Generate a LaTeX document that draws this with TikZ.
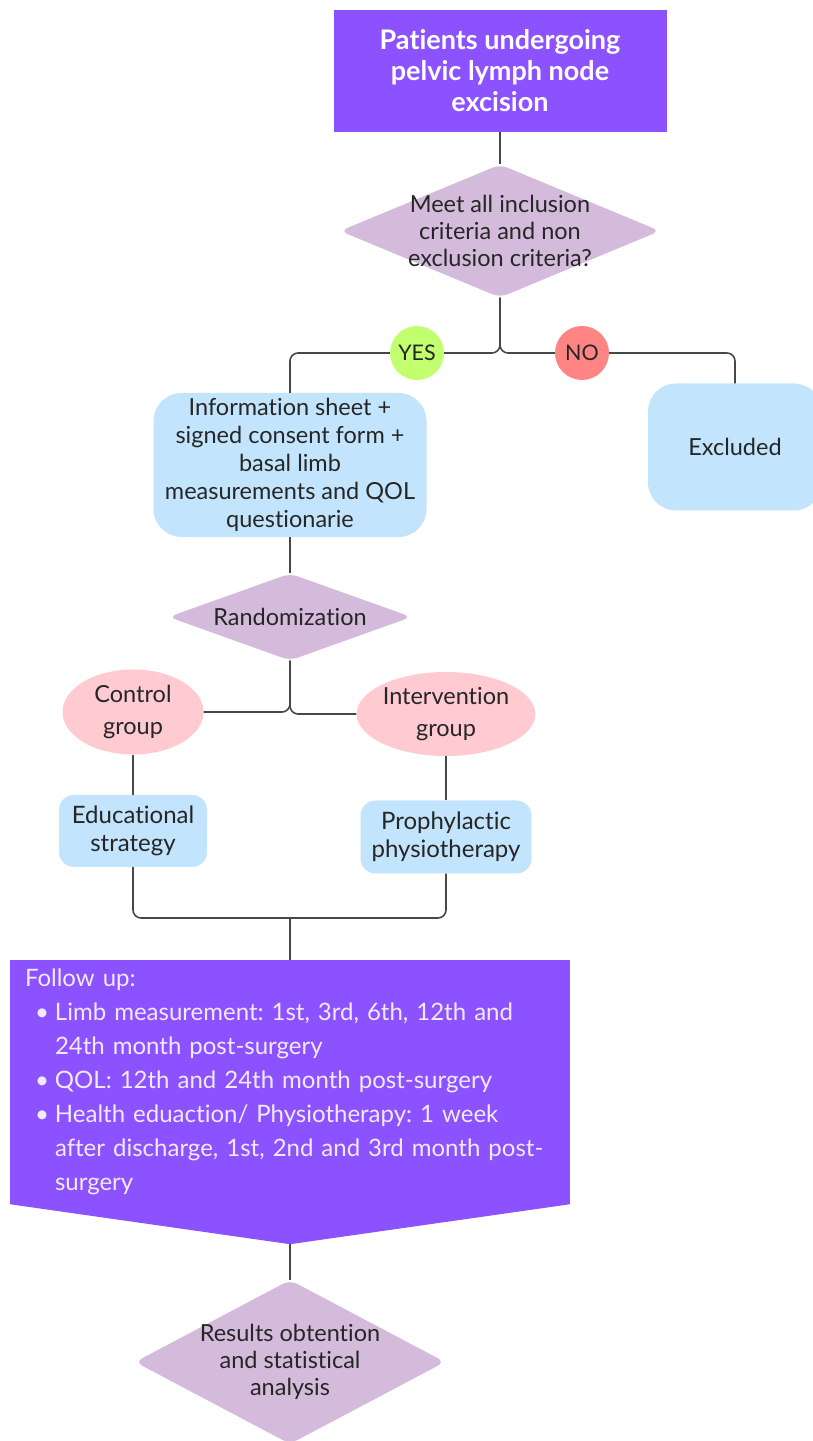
\documentclass[tikz,border=0pt]{standalone}
\usepackage{fontspec}
\setmainfont{Lato}[Ligatures=NoCommon]
\usetikzlibrary{positioning,shapes.geometric}
\definecolor{violetbox}{HTML}{8C52FF}
\definecolor{lilac}{HTML}{D4BBDC}
\definecolor{skyblue}{HTML}{C2E5FD}
\definecolor{rosepink}{HTML}{FFCAD0}
\definecolor{yesgreen}{HTML}{C2FF6F}
\definecolor{nored}{HTML}{FF8585}
\definecolor{linegray}{HTML}{474747}
\definecolor{palewhite}{HTML}{F1EAFF}
\frenchspacing
\newcommand{\fuitem}[1]{\par\hangindent=30pt\hangafter=1\hspace*{10pt}\makebox[20pt][l]{\textbullet}#1}
\newcommand{\fsz}[2]{\fontsize{#1}{#2}\selectfont}
\tikzset{on grid,every node/.style={font=\fsz{23.5}{28},text=black!85},
  connector/.style={draw=linegray,line width=1.6pt,rounded corners=8pt},
  purple box/.style={rectangle,fill=violetbox,inner sep=0pt},
  decision/.style={diamond,fill=lilac,rounded corners=8pt,inner sep=0pt},
  diamond text/.style={align=center,font=\fsz{23.5}{27}},
  soft box/.style={rectangle,fill=skyblue,rounded corners=#1,align=center,inner sep=0pt},
  soft box/.default=15pt,
  group node/.style={ellipse,fill=rosepink,align=center,inner sep=0pt,font=\fsz{23.5}{32}},
  answer/.style={circle,minimum size=54pt,inner sep=0pt,font=\fsz{21.5}{26}}}

\begin{document}
\begin{tikzpicture}[x=1pt,y=1pt]
  \useasboundingbox[fill=white] (0,0) rectangle (812,1441);
  \node[purple box, minimum width=333pt, minimum height=122pt, align=center,
        font=\fsz{27}{31}\bfseries, text=white] (top) at (500,1370)
        {Patients undergoing\\pelvic lymph node\\excision};
  \node[decision, minimum width=320pt, minimum height=133pt,
        label={[diamond text]center:{Meet all inclusion\\criteria and non\\exclusion criteria?}}]
        (meet) [below=160pt of top] {};
  \node[answer, fill=yesgreen] (yes) [below left=122pt and 83pt of meet] {YES};
  \node[answer, fill=nored] (no) [below right=122pt and 82pt of meet] {NO};
  \node[soft box=28pt, minimum width=273pt, minimum height=144pt] (info)
        [below left=112pt and 127pt of yes]
        {Information sheet +\\signed consent form +\\basal limb\\measurements and QOL\\questionarie};
  \node[soft box=28pt, minimum width=174pt, minimum height=127pt] (excl)
        [below right=94pt and 153pt of no] {Excluded};
  \node[decision, minimum width=243pt, minimum height=87pt,
        label={[diamond text]center:Randomization}] (rand) [below=152pt of info] {};
  \node[group node, minimum width=141pt, minimum height=85pt] (ctrl)
        [below left=95pt and 157pt of rand] {Control\\group};
  \node[group node, minimum width=172pt, minimum height=84pt] (interv)
        [below right=97pt and 156pt of rand] {Intervention\\group};
  \node[soft box, minimum width=148pt, minimum height=72pt, font=\fsz{24}{28}] (edu)
        [below=119pt of ctrl] {Educational\\strategy};
  \node[soft box, minimum width=171pt, minimum height=73pt, font=\fsz{24}{28}] (proph)
        [below=123pt of interv] {Prophylactic\\physiotherapy};
  \coordinate[below=301pt of rand] (merge);
  \node[purple box, minimum width=560pt, minimum height=244pt, inner xsep=15pt,
        text width=530pt, align=left, text=palewhite,
        font=\fsz{24}{34}] (follow) [below=465pt of rand]
        {Follow up:
         \fuitem{Limb measurement: 1st, 3rd, 6th, 12th and\newline 24th month post-surgery}
         \fuitem{QOL: 12th and 24th month post-surgery}
         \fuitem{Health eduaction/ Physiotherapy: 1 week\newline after discharge, 1st, 2nd and 3rd month post-\newline surgery}\par};
  \coordinate[below=40pt of follow.south] (tip);
  \fill[violetbox] (follow.south west) -- (follow.south east) -- (tip) -- cycle;
  \node[decision, minimum width=310pt, minimum height=164pt,
        label={[diamond text]center:{Results obtention\\and statistical\\analysis}}]
        (results) [below=280pt of follow] {};
  % connectors
  \path[connector] (top) -- (meet);
  \path[connector] (meet.south) |- (yes.east);
  \path[connector] (meet.south) |- (no.west);
  \path[connector] (yes.west) -| (info.north);
  \path[connector] (no.east) -| (excl.north);
  \path[connector] (info) -- (rand);
  \path[connector] (rand.south) |- (ctrl.east);
  \path[connector] (rand.south) |- (interv.west);
  \path[connector] (ctrl) -- (edu);
  \path[connector] (interv) -- (proph);
  \path[connector] (edu.south) |- (merge);
  \path[connector] (proph.south) |- (merge);
  \path[connector] (merge) -- (follow);
  \path[connector] (tip) -- (results);
\end{tikzpicture}
\end{document}
